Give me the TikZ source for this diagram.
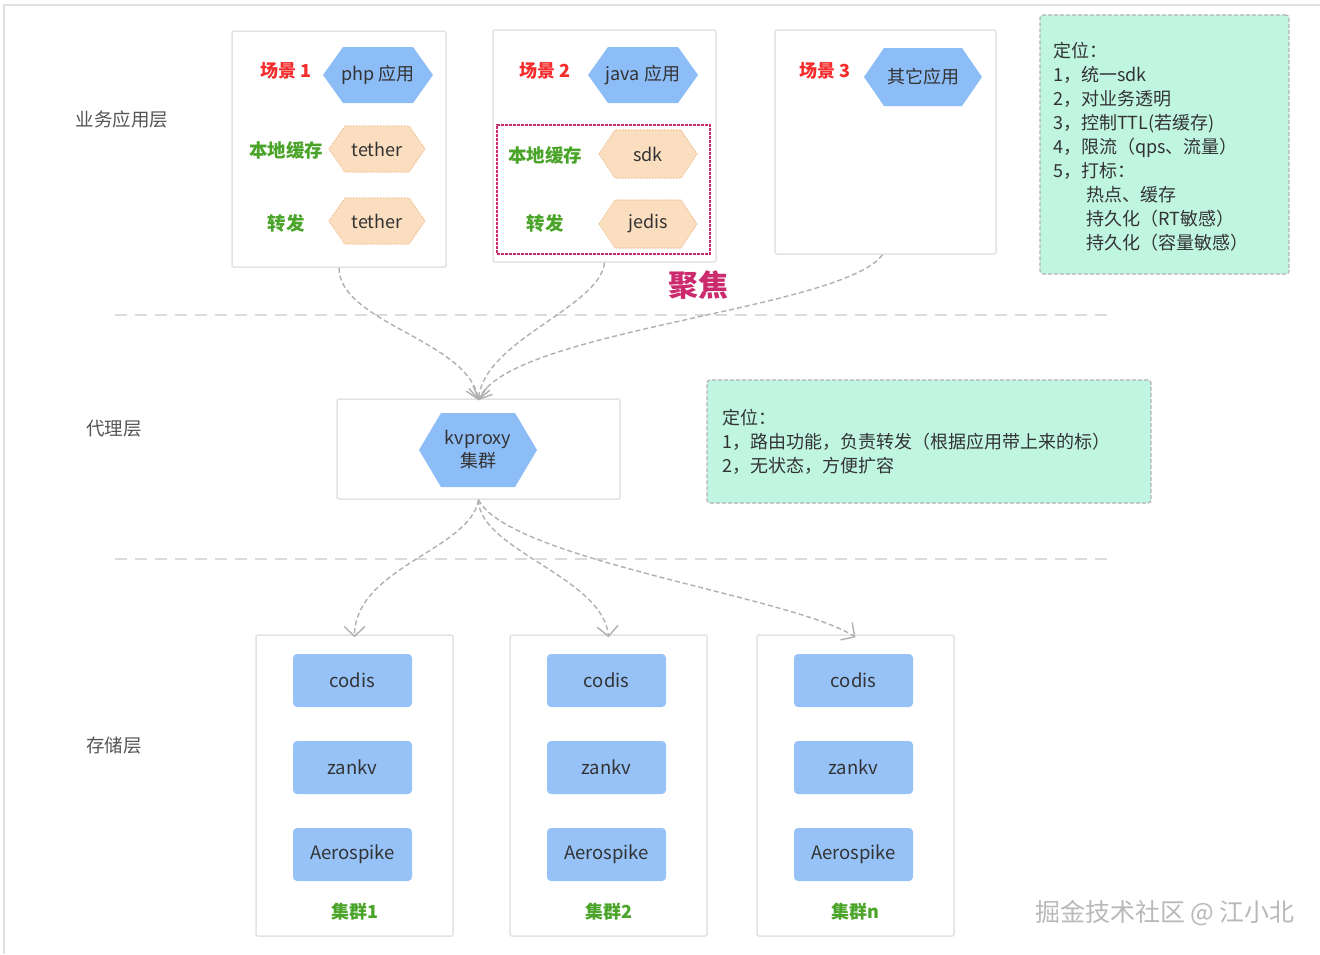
\documentclass[tikz,border=0pt]{standalone}
\usepackage{fontspec}
\setmainfont{Noto Sans CJK SC}
\usetikzlibrary{arrows.meta}
\definecolor{hexblue}{HTML}{8DBDF7}
\definecolor{peach}{HTML}{FBDDBF}
\definecolor{peachline}{HTML}{F0C59B}
\definecolor{mint}{HTML}{C0F6E1}
\definecolor{scred}{HTML}{F42C2C}
\definecolor{scgreen}{HTML}{4BA42A}
\definecolor{focus}{HTML}{CC2A6E}
\definecolor{txt}{HTML}{333333}
\definecolor{layer}{HTML}{555555}
\newcommand\hexa[8]{\begin{scope}[shift={(#2)}]\path[#6] (-#3,0) -- (-#3+#5,-#4) -- (#3-#5,-#4) -- (#3,0) -- (#3-#5,#4) -- (-#3+#5,#4) -- cycle; \node[#7] (#1) at (0,0) {#8};\end{scope}}
\tikzset{
  appbox/.style={draw=gray!22, line width=1.5pt, fill=white, rounded corners=2pt, inner sep=0pt},
  notebox/.style={draw=gray!60, dash pattern=on 4pt off 2pt, fill=mint, line width=1.2pt, rounded corners=3pt, inner sep=0pt},
  notetext/.style={anchor=west, align=left, inner sep=0pt, text=txt, font=\fontsize{18}{24}\selectfont},
  flow/.style={draw=gray!62, line width=1.4pt, dash pattern=on 5pt off 3pt, -{Straight Barb[length=10pt,width=21pt,line width=1.4pt]}},
  sepline/.style={draw=gray!28, line width=2pt, dash pattern=on 12pt off 8pt},
  bluehex/.style={fill=hexblue},
  peachhex/.style={fill=peach, draw=peachline, line width=1.2pt, dash pattern=on 1.5pt off 1.5pt},
  hextext/.style={inner sep=0pt, text=txt, font=\fontsize{18}{23}\selectfont, align=center},
  scene/.style={text=scred, font=\fontsize{18}{22}\selectfont\bfseries},
  role/.style={text=scgreen, font=\fontsize{18.5}{22}\selectfont\bfseries},
  layerlabel/.style={text=layer, font=\fontsize{18.5}{22}\selectfont},
  store/.style={fill=hexblue!92!white, rounded corners=4pt, minimum width=119pt, minimum height=53pt, inner sep=0pt, text=txt, font=\fontsize{18.5}{22}\selectfont},
  clusterlabel/.style={text=scgreen, font=\fontsize{18}{22}\selectfont\bfseries}
}
\begin{document}
\begin{tikzpicture}[x=1pt,y=-1pt]
\useasboundingbox (0,0) rectangle (1320,954);
\fill[white] (0,0) rectangle (1320,954);
\draw[gray!25, line width=1.5pt] (4,954) -- (4,5) -- (1320,5);

% layer labels
\node[layerlabel] (L1) at (122,119) {业务应用层};
\node[layerlabel] (L2) at (114,429) {代理层};
\node[layerlabel] (L3) at (114,746) {存储层};

% separators
\draw[sepline] (115,315) -- (1108,315);
\draw[sepline] (115,559) -- (1108,559);

% application boxes
\node[appbox, minimum width=214pt, minimum height=236pt] (s1) at (339,149) {};
\node[appbox, minimum width=223pt, minimum height=232pt] (s2) at (604.5,146) {};
\node[appbox, minimum width=221pt, minimum height=224pt] (s3) at (885.5,142) {};

% scene 1
\node[scene] (sc1) at (286,71) {场景 1};
\hexa{php}{378,75}{55}{28}{20}{bluehex}{hextext}{php 应用}
\node[role] (r11) at (286,150) {本地缓存};
\hexa{t1}{377,149}{48}{23}{16}{peachhex}{hextext}{tether}
\node[role] (r12) at (286,223) {转发};
\hexa{t2}{377,221}{48}{23}{16}{peachhex}{hextext}{tether}

% scene 2
\node[scene] (sc2) at (545,71) {场景 2};
\hexa{java}{643,75}{55}{28}{20}{bluehex}{hextext}{java 应用}
\node[draw=focus, line width=2.6pt, dash pattern=on 3pt off 1pt, minimum width=213pt, minimum height=129pt, inner sep=0pt] (focusbox) at (603.5,189.5) {};
\node[role] (r21) at (545,155) {本地缓存};
\hexa{sdk}{648,154}{49}{24}{16}{peachhex}{hextext}{sdk}
\node[role] (r22) at (545,223) {转发};
\hexa{jedis}{648,224}{49}{24}{16}{peachhex}{hextext}{jedis}
\node[text=focus, font=\fontsize{30}{34}\selectfont\bfseries] (focuslabel) at (698,285) {聚焦};

% scene 3
\node[scene] (sc3) at (825,71) {场景 3};
\hexa{other}{923,77}{59}{29}{20}{bluehex}{hextext}{其它应用}

% note 1
\node[notebox, minimum width=249pt, minimum height=259pt] (n1) at (1164.5,144.5) {};
\node[notetext] (n1t) at (1053,146.5) {定位：\\1，统一sdk\\2，对业务透明\\3，控制TTL(若缓存)\\4，限流（qps、流量）\\5，打标：\\\hspace*{33pt}热点、缓存\\\hspace*{33pt}持久化（RT敏感）\\\hspace*{33pt}持久化（容量敏感）};

% proxy
\node[appbox, minimum width=283pt, minimum height=100pt] (proxy) at (478.5,449) {};
\hexa{kv}{478,450}{59}{37}{22}{bluehex}{hextext}{kvproxy\\集群}

% note 2
\node[notebox, minimum width=444pt, minimum height=123pt] (n2) at (929,441.5) {};
\node[notetext] (n2t) at (722,442) {定位：\\1，路由功能，负责转发（根据应用带上来的标）\\2，无状态，方便扩容};

% storage clusters
\foreach \cx/\nm/\lab in {354.5/c1/集群1, 608.5/c2/集群2, 855.5/c3/集群n}{
  \node[appbox, minimum width=197pt, minimum height=301pt] (\nm) at (\cx,785.5) {};
  \node[store] (\nm a) at (\cx-2,680.5) {codis};
  \node[store] (\nm b) at (\cx-2,767.5) {zankv};
  \node[store] (\nm c) at (\cx-2,854.5) {Aerospike};
  \node[clusterlabel] (\nm l) at (\cx,912) {\lab};
}

% connectors
\draw[flow] (s1.south) .. controls +(0,55) and +(-10,-60) .. ([yshift=-2pt]proxy.north);
\draw[flow] (s2.south) .. controls +(-5,45) and +(5,-60) .. ([yshift=-2pt]proxy.north);
\draw[flow] ([xshift=-3pt]s3.south) .. controls +(-40,55) and +(30,-70) .. ([yshift=-2pt]proxy.north);
\draw[flow] (proxy.south) .. controls +(-8,50) and +(0,-70) .. ([yshift=-3pt]c1.north);
\draw[flow] (proxy.south) .. controls +(0,50) and +(-5,-60) .. ([yshift=-3pt]c2.north);
\draw[flow] (proxy.south) .. controls +(30,60) and +(-60,-40) .. ([yshift=-3pt]c3.north);

% watermark
\node[text=gray!55, font=\fontsize{25}{28}\selectfont] (wm) at (1165,913) {掘金技术社区 @ 江小北};
\end{tikzpicture}
\end{document}
